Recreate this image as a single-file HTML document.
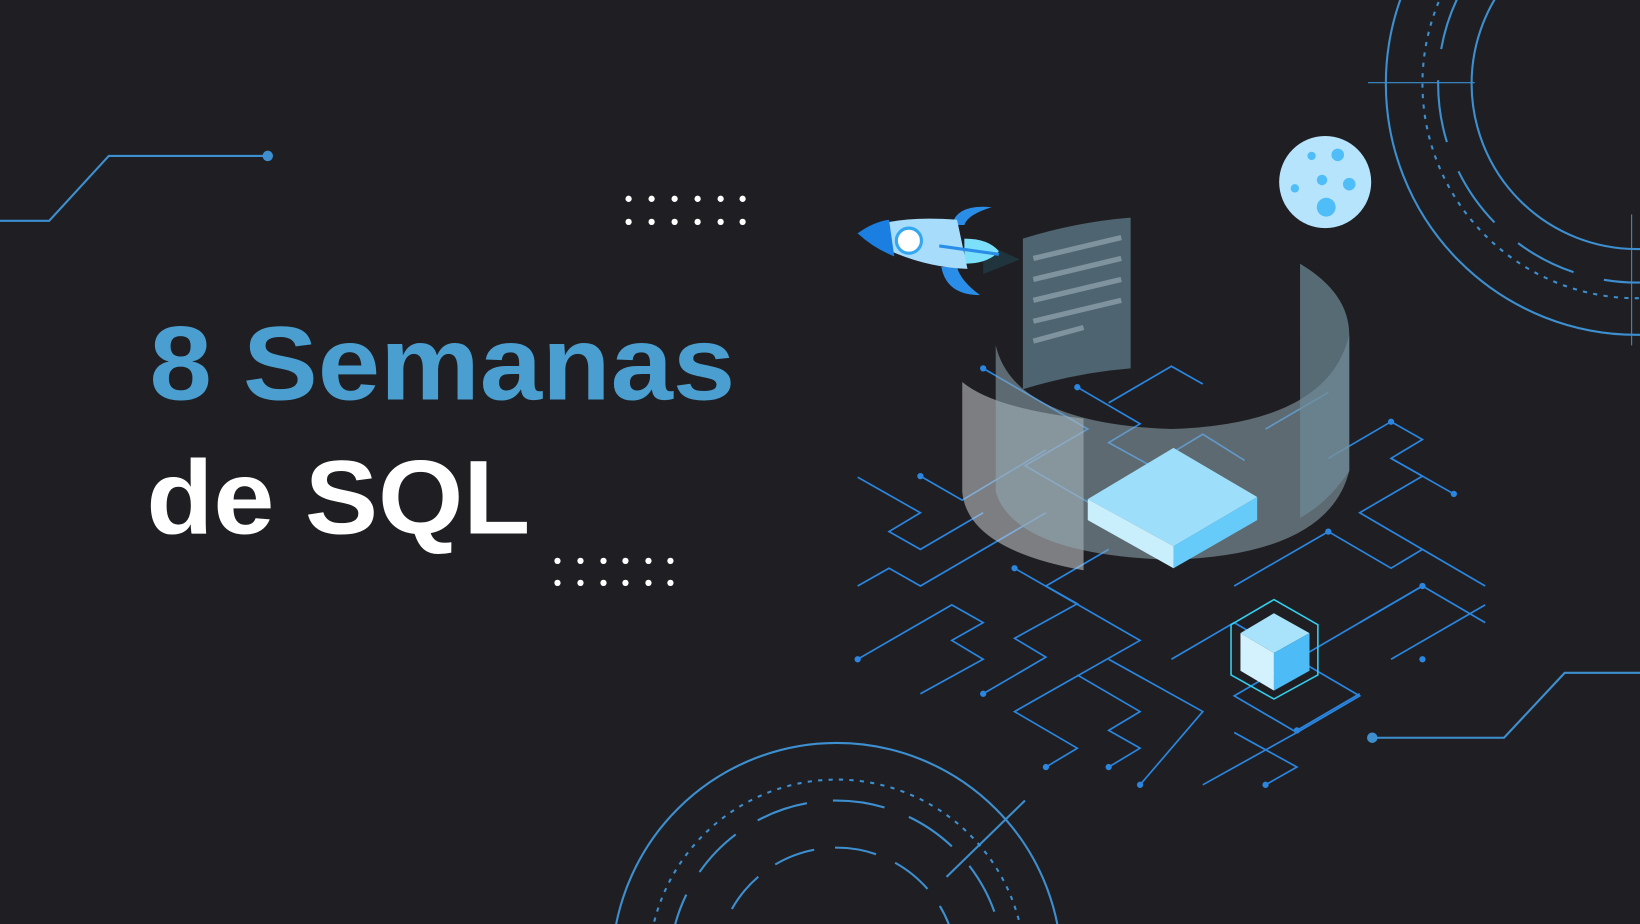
<!DOCTYPE html>
<html><head><meta charset="utf-8"><style>
html,body{margin:0;padding:0;background:#1f1f23;width:1640px;height:924px;overflow:hidden}
svg{display:block;position:absolute;left:0;top:0}
</style></head><body>
<svg width="1640" height="924" viewBox="0 0 1568 883" preserveAspectRatio="none" xmlns="http://www.w3.org/2000/svg">
<rect width="1568" height="883" fill="#1f1f23"/>
<polyline points="0,211 47,211 104,149 256,149" fill="none" stroke="#3d8fcf" stroke-width="2"/>
<circle cx="256" cy="149" r="5" fill="#3d8fcf"/>
<polyline points="1312,705 1438,705 1496,643 1568,643" fill="none" stroke="#3d8fcf" stroke-width="2"/>
<circle cx="1312" cy="705" r="5" fill="#3d8fcf"/>
<g fill="#fff">
<circle cx="601" cy="190" r="3"/><circle cx="623" cy="190" r="3"/><circle cx="645" cy="190" r="3"/><circle cx="667" cy="190" r="3"/><circle cx="689" cy="190" r="3"/><circle cx="710" cy="190" r="3"/>
<circle cx="601" cy="212" r="3"/><circle cx="623" cy="212" r="3"/><circle cx="645" cy="212" r="3"/><circle cx="667" cy="212" r="3"/><circle cx="689" cy="212" r="3"/><circle cx="710" cy="212" r="3"/>
<circle cx="533" cy="536" r="3"/><circle cx="555" cy="536" r="3"/><circle cx="577" cy="536" r="3"/><circle cx="598" cy="536" r="3"/><circle cx="620" cy="536" r="3"/><circle cx="641" cy="536" r="3"/>
<circle cx="533" cy="557" r="3"/><circle cx="555" cy="557" r="3"/><circle cx="577" cy="557" r="3"/><circle cx="598" cy="557" r="3"/><circle cx="620" cy="557" r="3"/><circle cx="641" cy="557" r="3"/>
</g>
<text x="143" y="382" font-family="Liberation Sans, sans-serif" font-weight="bold" font-size="100" fill="#4a9fd0" textLength="560" lengthAdjust="spacingAndGlyphs">8 Semanas</text>
<text x="140" y="510" font-family="Liberation Sans, sans-serif" font-weight="bold" font-size="100" fill="#ffffff" textLength="367" lengthAdjust="spacingAndGlyphs">de SQL</text>
<g fill="none" stroke="#3d8fcf" stroke-width="2">
<circle cx="1565" cy="80" r="240"/>
<circle cx="1565" cy="80" r="205" stroke-dasharray="4 6"/>
<circle cx="1565" cy="80" r="190" stroke-dasharray="60 30"/>
<circle cx="1565" cy="80" r="158"/>
<line x1="1308" y1="79" x2="1410" y2="79" stroke-width="1"/>
<line x1="1560" y1="205" x2="1560" y2="330" stroke-width="1"/>
</g>
<g fill="none" stroke="#3d8fcf" stroke-width="2">
<circle cx="800" cy="925" r="215"/>
<circle cx="800" cy="925" r="180" stroke-dasharray="4 6"/>
<circle cx="800" cy="925" r="160" stroke-dasharray="50 25"/>
<circle cx="800" cy="925" r="115" stroke-dasharray="40 20"/>
<line x1="905" y1="838" x2="980" y2="765"/>
</g>
<g fill="none" stroke="#2a86e0" stroke-width="1.6">
<polyline points="820,456 880,490 850,508 880,525 940,490"/>
<polyline points="820,560 850,543 880,560 1000,490"/>
<polyline points="880,455 920,478 1000,430"/>
<polyline points="940,352 1040,410 980,445 1070,497"/>
<polyline points="1030,370 1090,405 1060,423 1100,445 1150,415 1190,440"/>
<polyline points="1060,385 1120,350 1150,367"/>
<polyline points="820,630 910,578 940,595 910,612 940,630 880,663"/>
<polyline points="940,663 1000,628 970,610 1030,577 1000,560 1060,525"/>
<polyline points="970,543 1090,612 1000,663 970,680 1030,715 1000,733"/>
<polyline points="1030,645 1090,680 1060,698 1090,715 1060,733"/>
<polyline points="1060,630 1150,680 1090,750"/>
<polyline points="1120,630 1180,595 1240,630 1180,665 1240,700 1150,750"/>
<polyline points="1240,700 1300,665 1240,630 1360,560"/>
<polyline points="1210,750 1240,733 1180,700"/>
<polyline points="1240,698 1300,663"/>
<polyline points="1180,560 1270,508 1330,543 1360,525 1420,560"/>
<polyline points="1300,595 1360,560 1420,595"/>
<polyline points="1330,630 1420,578"/>
<polyline points="1270,438 1330,403 1360,420 1330,438 1360,455 1300,490 1360,525"/>
<polyline points="1330,438 1390,472"/>
<polyline points="1210,410 1270,375"/>
</g>
<g fill="#2a86e0">
<circle cx="940" cy="352" r="3"/><circle cx="1030" cy="370" r="3"/><circle cx="880" cy="455" r="3"/><circle cx="820" cy="630" r="3"/>
<circle cx="940" cy="663" r="3"/><circle cx="970" cy="543" r="3"/><circle cx="1000" cy="733" r="3"/><circle cx="1060" cy="733" r="3"/>
<circle cx="1090" cy="750" r="3"/><circle cx="1210" cy="750" r="3"/><circle cx="1360" cy="630" r="3"/><circle cx="1360" cy="560" r="3"/>
<circle cx="1390" cy="472" r="3"/><circle cx="1330" cy="403" r="3"/><circle cx="1270" cy="508" r="3"/><circle cx="1240" cy="698" r="3"/>
</g>
<path d="M920,365 L920,470 Q925,525 1036,545 L1036,400 Q950,390 920,365Z" fill="#c8ccd0" opacity="0.55"/>
<path d="M952,330 Q970,405 1120,410 Q1270,405 1290,320 L1290,450 Q1270,530 1120,535 Q970,530 952,470Z" fill="#8fa7b3" opacity="0.55"/>
<path d="M1243,252 Q1290,280 1290,320 L1290,450 Q1270,480 1243,495Z" fill="#6f8c99" opacity="0.7"/>
<path d="M978,228 Q1030,212 1081,208 L1081,352 Q1030,356 978,372Z" fill="#4e6571"/>
<g stroke="#7e939d" stroke-width="5"><line x1="988" y1="247" x2="1072" y2="227"/><line x1="988" y1="267" x2="1072" y2="247"/><line x1="988" y1="287" x2="1072" y2="267"/><line x1="988" y1="307" x2="1072" y2="287"/><line x1="988" y1="326" x2="1036" y2="313"/></g>
<polygon points="1040,477 1122,428 1202,475 1122,522" fill="#9ddffb"/>
<polygon points="1040,477 1122,522 1122,543 1040,497" fill="#c9effd"/>
<polygon points="1122,522 1202,475 1202,497 1122,543" fill="#66cbf8"/>
<polygon points="1218,573 1260,597 1260,645 1218,668 1177,645 1177,597" fill="none" stroke="#33d0f0" stroke-width="1.5"/>
<polygon points="1186,605 1218,586 1252,605 1218,624" fill="#a8e3fb"/>
<polygon points="1186,605 1218,624 1218,660 1186,641" fill="#d4f2fd"/>
<polygon points="1218,624 1252,605 1252,641 1218,660" fill="#4dbbf5"/>
<circle cx="1267" cy="174" r="44" fill="#b6e4fc"/>
<path d="M1295,140 A44,44 0 0 1 1240,209 A44,44 0 0 0 1295,140Z" fill="#8fd6fa"/>
<g fill="#4fbdf7"><circle cx="1279" cy="148" r="6"/><circle cx="1254" cy="149" r="4"/><circle cx="1264" cy="172" r="5"/><circle cx="1290" cy="176" r="6"/><circle cx="1238" cy="180" r="4"/><circle cx="1268" cy="198" r="9"/></g>
<path d="M940,232 L975,248 L940,262Z" fill="#1f3a44" opacity="0.8"/>
<path d="M910,215 Q915,195 948,198 Q925,205 922,215Z" fill="#2a8ee8"/>
<path d="M900,255 Q905,282 937,282 Q918,268 915,255Z" fill="#2a8ee8"/>
<path d="M922,228 Q945,228 955,240 Q945,252 922,252Z" fill="#7de0fb"/>
<path d="M820,223 Q850,205 915,210 L925,257 Q870,255 820,223Z" fill="#a8dcfb"/>
<path d="M820,223 Q835,212 850,210 L855,245 Q835,237 820,223Z" fill="#1a7fe0"/>
<circle cx="869" cy="230" r="12" fill="#fff" stroke="#33a8f0" stroke-width="3"/>
<line x1="898" y1="235" x2="955" y2="243" stroke="#2a8ee8" stroke-width="3"/>
</svg>
</body></html>
